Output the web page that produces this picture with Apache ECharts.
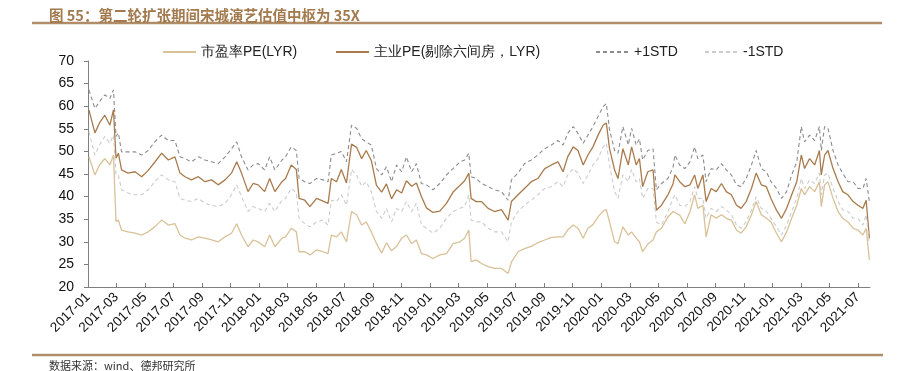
<!DOCTYPE html>
<html>
<head>
<meta charset="utf-8">
<script src="https://cdn.jsdelivr.net/npm/echarts@6/dist/echarts.min.js"></script>
<style>html,body{margin:0;padding:0;background:#fff;}#c{width:899px;height:371px;}</style>
</head>
<body>
<div id="c"></div>
<script>
var dates = [
'2017-01-03','2017-01-16','2017-01-26','2017-02-06','2017-02-16','2017-02-23','2017-02-28','2017-03-05','2017-03-12','2017-03-26',
'2017-04-10','2017-04-24','2017-05-08','2017-05-22','2017-06-06','2017-06-20','2017-07-04','2017-07-15','2017-07-26','2017-08-09',
'2017-08-24','2017-09-07','2017-09-21','2017-10-05','2017-10-20','2017-11-03','2017-11-14','2017-11-24','2017-12-08','2017-12-19',
'2017-12-30','2018-01-13','2018-01-24','2018-02-04','2018-02-18',
'2018-02-25','2018-03-09','2018-03-20','2018-03-26','2018-04-07','2018-04-18','2018-05-02','2018-05-16','2018-05-27','2018-06-03',
'2018-06-14','2018-06-24','2018-07-05','2018-07-16','2018-07-27','2018-08-07','2018-08-17','2018-08-28','2018-09-08','2018-09-19',
'2018-09-29','2018-10-10','2018-10-21','2018-11-01','2018-11-11','2018-11-22','2018-12-02','2018-12-13','2018-12-24',
'2019-01-07','2019-01-22','2019-02-05','2019-02-18','2019-03-04','2019-03-14','2019-03-23','2019-03-28','2019-04-08',
'2019-04-19','2019-05-03','2019-05-17','2019-06-01','2019-06-15','2019-06-22','2019-07-06','2019-07-20','2019-08-04','2019-08-18',
'2019-09-02','2019-09-16','2019-09-30','2019-10-11','2019-10-21','2019-11-02','2019-11-12','2019-11-23','2019-12-03','2019-12-14',
'2019-12-25','2020-01-05','2020-01-12','2020-01-19','2020-01-30','2020-02-06','2020-02-16','2020-02-27','2020-03-05','2020-03-15',
'2020-03-22','2020-03-29','2020-04-09','2020-04-20','2020-04-27','2020-05-08','2020-05-22','2020-06-02',
'2020-06-06','2020-06-16','2020-06-27','2020-07-08','2020-07-18','2020-07-25','2020-08-05','2020-08-12','2020-08-23','2020-09-03',
'2020-09-14','2020-09-24','2020-10-05','2020-10-16','2020-10-26','2020-11-06','2020-11-17','2020-11-27','2020-12-08','2020-12-19',
'2020-12-29','2021-01-10','2021-01-21','2021-02-01','2021-02-11','2021-02-21','2021-03-02','2021-03-09','2021-03-20','2021-03-31',
'2021-04-10','2021-04-14','2021-04-21','2021-04-28','2021-05-09','2021-05-20','2021-05-30','2021-06-10','2021-06-21','2021-07-01',
'2021-07-12','2021-07-19','2021-07-26'
];
var peMarket = [
48.8,44.8,47.0,48.4,47.0,49.2,34.5,34.8,32.6,32.2,31.9,31.5,32.2,33.3,34.8,33.7,34.0,31.5,30.8,30.4,
31.1,30.8,30.4,30.0,31.1,31.9,34.0,31.5,28.9,30.4,30.0,28.9,31.5,28.9,30.8,
31.1,33.0,32.2,27.8,27.8,27.1,28.2,27.8,27.4,31.5,31.1,32.2,30.0,36.7,36.0,33.7,34.4,32.2,29.6,27.5,
29.8,28.0,29.0,30.8,31.5,29.6,30.4,27.4,27.1,26.3,27.1,27.4,29.6,30.0,30.8,32.6,25.6,26.0,
25.2,24.5,24.1,24.1,23.0,25.5,27.8,28.5,29.0,29.8,30.4,31.0,31.1,31.1,32.6,33.7,33.0,30.8,33.0,33.8,
35.5,36.8,37.1,34.4,30.0,29.6,33.3,31.5,32.2,30.8,30.0,27.8,29.5,30.4,32.2,33.0,35.5,36.7,
37.0,35.9,34.0,36.7,40.4,37.4,38.1,31.1,36.0,35.2,36.0,35.2,34.8,32.6,31.9,33.3,36.0,38.9,36.0,35.2,
34.4,31.9,30.0,32.2,35.2,38.1,41.8,40.4,42.2,41.1,43.3,37.8,42.6,43.3,39.6,36.7,35.2,34.4,33.0,32.6,
31.5,33.0,26.0
];
var peCore = [
59.2,54.1,56.3,58.0,55.8,59.2,48.5,49.6,45.9,45.2,45.5,44.4,45.8,47.6,49.6,48.1,48.8,45.2,44.4,43.7,
44.4,43.3,43.7,42.6,43.7,45.2,47.7,45.2,41.1,42.9,42.6,41.1,44.0,41.1,43.3,
44.0,47.0,46.0,39.6,39.2,37.8,39.6,39.0,38.5,44.0,43.3,46.0,43.0,51.6,50.9,48.4,50.2,48.0,42.5,41.0,
42.8,39.5,41.5,40.8,43.5,42.3,43.0,40.0,37.5,36.5,36.8,38.5,41.0,42.5,43.5,45.2,39.6,38.9,
38.9,37.4,36.7,37.1,34.8,38.9,40.4,41.8,43.3,44.0,46.2,47.0,47.7,45.5,48.8,51.0,50.2,47.0,49.2,51.0,
53.6,55.8,56.3,50.6,45.9,44.0,50.6,47.0,51.0,47.0,48.4,42.2,45.5,45.9,37.0,38.1,40.4,42.8,
44.8,43.3,42.2,42.6,44.8,41.8,44.8,38.9,41.8,41.1,42.9,41.1,40.4,38.1,37.4,38.9,41.8,45.2,42.6,42.2,
39.6,37.0,35.2,37.4,40.4,43.3,49.2,46.2,48.4,47.0,50.2,44.8,49.2,50.2,46.2,43.3,41.1,40.4,38.9,38.1,
37.4,39.2,30.8
];
var stdUp = [
63.6,59.5,61.0,62.5,61.7,63.6,53.3,54.1,49.9,49.9,49.9,49.2,50.2,52.1,53.6,52.4,52.4,48.8,48.4,47.7,
48.8,48.1,47.7,47.3,48.8,50.6,52.1,48.8,45.9,47.0,47.3,45.9,48.8,45.9,48.1,
48.8,51.0,50.2,44.0,43.3,42.9,44.0,43.7,43.3,49.2,49.6,50.0,47.7,55.8,55.1,52.8,52.1,51.4,46.2,44.8,
46.6,43.3,47.0,45.5,48.8,45.5,47.3,42.9,42.6,41.5,42.9,44.8,46.2,47.7,48.1,49.6,44.4,44.0,
42.9,42.2,41.5,41.1,39.2,43.7,45.2,47.3,48.1,49.2,50.6,51.4,52.4,51.4,54.0,55.5,54.0,51.8,53.6,55.5,
57.7,59.9,60.6,54.8,50.2,49.6,55.5,51.4,55.1,51.4,52.8,48.1,50.2,50.6,41.5,42.9,44.0,46.5,
49.2,47.0,46.2,47.7,51.0,48.4,49.2,43.3,46.2,45.9,47.3,45.9,44.8,42.6,42.2,44.0,47.0,50.2,46.2,45.5,
43.3,41.8,39.6,41.1,44.8,47.7,55.5,52.1,53.6,52.4,55.5,50.2,55.5,55.1,50.2,47.0,45.2,43.3,43.3,41.8,
41.8,44.0,38.9
];
var stdDown = [
54.4,49.2,51.4,53.3,51.8,53.6,44.8,44.8,41.5,40.8,40.4,40.4,41.5,43.3,44.8,43.7,43.3,39.6,39.2,38.9,
39.6,38.5,38.1,37.8,38.5,40.4,42.6,40.0,36.7,37.8,37.4,36.7,38.5,36.7,39.2,
39.6,41.8,40.8,35.2,34.0,33.3,34.4,34.8,33.7,39.2,38.9,40.4,38.1,46.0,44.8,42.3,43.3,41.1,36.7,35.2,
37.4,34.4,37.4,36.7,38.9,36.7,38.5,33.7,33.0,31.9,33.0,35.2,36.7,37.4,37.8,40.4,34.8,34.4,
34.4,33.0,32.2,32.2,30.0,34.4,36.7,38.1,39.2,40.4,41.8,42.2,43.3,42.2,44.8,46.2,45.2,42.9,44.8,47.0,
48.4,51.0,51.8,47.0,41.1,39.6,44.8,43.3,46.0,43.3,44.0,39.6,41.8,41.8,34.4,33.7,36.7,39.6,
40.4,38.1,37.8,38.9,42.2,39.6,39.6,35.2,37.4,36.7,37.8,37.1,36.0,33.7,33.0,34.4,37.1,40.0,37.4,36.7,
35.2,33.3,31.5,33.7,36.7,39.6,44.0,41.8,43.7,42.9,45.2,40.4,44.8,45.2,41.8,38.9,37.1,36.7,35.2,35.2,
33.7,36.0,29.5
];
var seriesNames = ['市盈率PE(LYR)', '主业PE(剔除六间房，LYR)', '+1STD', '-1STD'];
var titleText = '图 55：第二轮扩张期间宋城演艺估值中枢为 35X';
var sourceText = '数据来源：wind、德邦研究所';
var yTicks = { min: 20, max: 70, step: 5 };
var xStartYear = 2017;
var xTickMonths = [];
for (var k = 0; k <= 54; k += 2) xTickMonths.push(k);

function monthIndex(s) {
  var p = s.split('-').map(Number);
  var dim = new Date(p[0], p[1], 0).getDate();
  return (p[0] - xStartYear) * 12 + (p[1] - 1) + (p[2] - 1) / dim;
}
function pair(vals) { return dates.map(function (d, i) { return [monthIndex(d), vals[i]]; }); }
function fmtMonth(v) {
  var m = Math.round(v);
  var y = xStartYear + Math.floor(m / 12);
  var mo = (m % 12) + 1;
  return y + '-' + (mo < 10 ? '0' + mo : mo);
}

var chart = echarts.init(document.getElementById('c'));
var FONT = 'Liberation Sans, Arial, sans-serif';
var CJK = '"Noto Sans CJK SC", sans-serif';
var legendLefts = [157, 330, 590, 699];
var legends = seriesNames.map(function (n, i) {
  return {
    left: legendLefts[i], top: 40, itemWidth: 33, itemHeight: 14, itemGap: 10,
    itemStyle: { opacity: 0 },
    textStyle: { fontSize: 14, color: '#222', fontFamily: FONT },
    data: [n]
  };
});
chart.setOption({
  animation: false,
  backgroundColor: '#ffffff',
  title: [
    { text: titleText, left: 44, top: 3, textStyle: { fontSize: 14.5, fontWeight: 'bold', color: '#a27a4e', fontFamily: CJK } },
    { text: sourceText, left: 44, top: 355, textStyle: { fontSize: 11, fontWeight: 'normal', color: '#333', fontFamily: CJK } }
  ],
  graphic: [
    { type: 'line', shape: { x1: 32, y1: 23, x2: 882, y2: 23 }, style: { stroke: '#b08c68', lineWidth: 2.5 } },
    { type: 'line', shape: { x1: 32, y1: 355, x2: 883, y2: 355 }, style: { stroke: '#b08c68', lineWidth: 2.5 } }
  ],
  legend: legends,
  grid: { left: 88, right: 29, top: 61, bottom: 84 },
  xAxis: {
    type: 'value', min: 0, max: 54.85, interval: 2,
    axisLine: { lineStyle: { color: '#808080', width: 1 } },
    axisTick: { inside: true, length: 4, lineStyle: { color: '#808080' }, customValues: xTickMonths },
    axisLabel: { rotate: 45, margin: 8, fontSize: 13.5, color: '#111', fontFamily: FONT, customValues: xTickMonths, formatter: function (v) { return fmtMonth(v); } },
    splitLine: { show: false }
  },
  yAxis: {
    type: 'value', min: yTicks.min, max: yTicks.max, interval: yTicks.step,
    axisLine: { show: true, lineStyle: { color: '#808080', width: 1 } },
    axisTick: { show: true, length: 4, lineStyle: { color: '#808080' } },
    axisLabel: { fontSize: 14, color: '#111', margin: 14, fontFamily: FONT },
    splitLine: { show: false }
  },
  series: [
    { name: seriesNames[0], type: 'line', symbol: 'none', data: pair(peMarket), lineStyle: { color: '#d9c198', width: 1.3 }, itemStyle: { color: '#d9c198' } },
    { name: seriesNames[1], type: 'line', symbol: 'none', data: pair(peCore), lineStyle: { color: '#a97b4c', width: 1.3 }, itemStyle: { color: '#a97b4c' } },
    { name: seriesNames[2], type: 'line', symbol: 'none', data: pair(stdUp), lineStyle: { color: '#8c8c8c', width: 1.1, type: [4, 3] }, itemStyle: { color: '#8c8c8c' } },
    { name: seriesNames[3], type: 'line', symbol: 'none', data: pair(stdDown), lineStyle: { color: '#cccccc', width: 1.1, type: [4, 3] }, itemStyle: { color: '#cccccc' } }
  ]
});
</script>
</body>
</html>
